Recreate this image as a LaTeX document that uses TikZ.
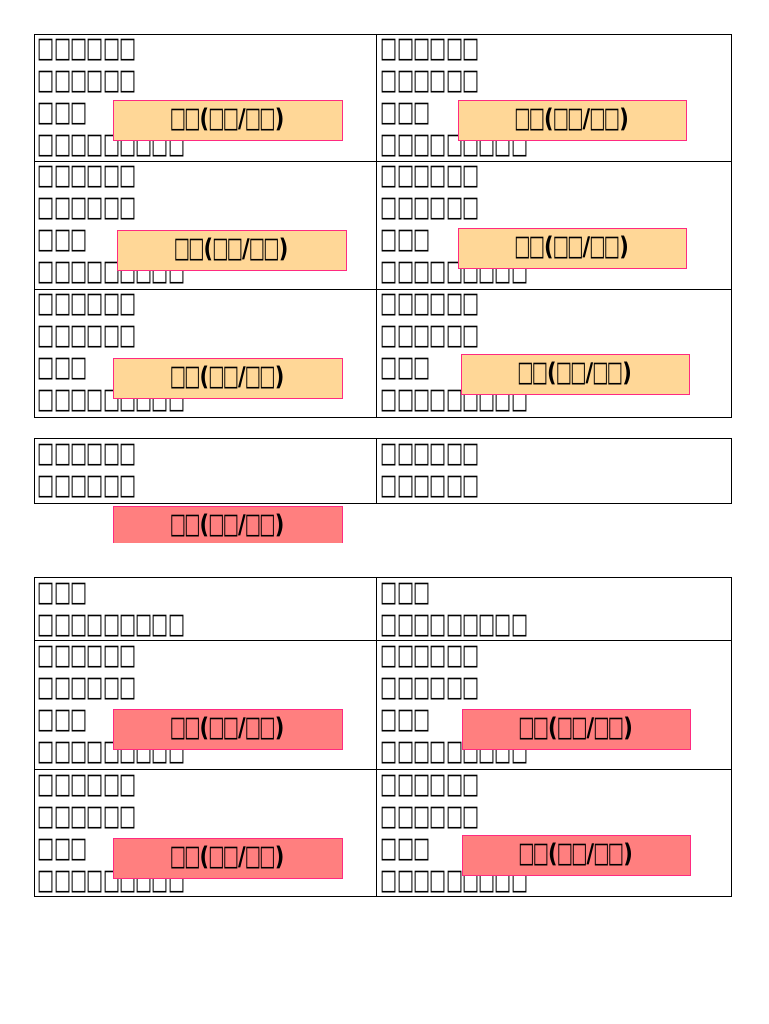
\documentclass[tikz,border=0pt]{standalone}
\usepackage{fontspec}
\usepackage{graphicx}
\setmainfont{DejaVu Sans}
\newcommand\tb{\makebox[16.3pt]{\scalebox{0.95}[1.5]{□}}}
\newcommand\lb{\makebox[14.5pt]{\scalebox{0.9}[1.5]{□}}}
\newcommand\tall[1]{\scalebox{1.1}[1.35]{#1}}
\newcommand\Lab{\lb\lb\tall{(}\lb\lb\tall{/}\lb\lb\tall{)}}
\newcommand\Ls{\tb\tb\tb\tb\tb\tb}
\newcommand\Lt{\tb\tb\tb}
\newcommand\Ln{\tb\tb\tb\tb\tb\tb\tb\tb\tb}
\definecolor{org}{HTML}{FFD797}
\definecolor{rd}{HTML}{FF7F7F}
\definecolor{pk}{HTML}{FF2A80}
\begin{document}
\begin{tikzpicture}[x=1pt,y=-1pt,
  txt/.style={anchor=west,inner sep=0pt,font=\fontsize{19}{19}\selectfont},
  lab/.style={font=\bfseries\fontsize{19}{19}\selectfont,inner sep=0pt},
  grid/.style={draw=black,line width=0.6pt}]
\useasboundingbox (0,0) rectangle (768,1024);
% table 1
\draw[grid] (34,34) rectangle (731,417);
\draw[grid] (376,34) -- (376,417) (34,161) -- (731,161) (34,289) -- (731,289);
\foreach \t [count=\i] in {34,161,289}{
 \foreach \x/\c in {38/a,381/b}{
  \node[txt] (t1\i\c1) at (\x,\t+16) {\Ls};
  \node[txt] (t1\i\c2) at (\x,\t+48) {\Ls};
  \node[txt] (t1\i\c3) at (\x,\t+80) {\Lt};
  \node[txt] (t1\i\c4) at (\x,\t+112) {\Ln};
 }}
% table 2
\draw[grid] (34,438) rectangle (731,503);
\draw[grid] (376,438) -- (376,503);
\foreach \x/\c in {38/a,381/b}{
  \node[txt] (t2\c1) at (\x,455) {\Ls};
  \node[txt] (t2\c2) at (\x,487) {\Ls};
}
% table 3
\draw[grid] (34,577) rectangle (731,896);
\draw[grid] (376,577) -- (376,896) (34,640) -- (731,640) (34,769) -- (731,769);
\foreach \x/\c in {38/a,381/b}{
  \node[txt] (t30\c1) at (\x,594) {\Lt};
  \node[txt] (t30\c2) at (\x,626) {\Ln};
}
\foreach \t [count=\i] in {640,769}{
 \foreach \x/\c in {38/a,381/b}{
  \node[txt] (t3\i\c1) at (\x,\t+17) {\Ls};
  \node[txt] (t3\i\c2) at (\x,\t+49) {\Ls};
  \node[txt] (t3\i\c3) at (\x,\t+81) {\Lt};
  \node[txt] (t3\i\c4) at (\x,\t+113) {\Ln};
 }}
% labels
\foreach \n/\a/\b/\c/\d/\f in {
 l1/113/100/342/140/org, l2/458/100/686/140/org,
 l3/117/230/346/270/org, l4/458/228/686/268/org,
 l5/113/358/342/398/org, l6/461/354/689/394/org,
 l8/113/709/342/749/rd, l9/462/709/690/749/rd,
 l10/113/838/342/878/rd, l11/462/835/690/875/rd}{
 \draw[draw=pk,line width=0.8pt,fill=\f] (\a,\b) rectangle (\c,\d);
 \node[lab] (\n) at ({(\a+\c)/2},{(\b+\d)/2}) {\Lab};
}
\fill[rd] (113,506) rectangle (342,543);
\draw[pk,line width=0.8pt] (113,543) -- (113,506) -- (342,506) -- (342,543);
\node[lab] (l7) at (227.5,526) {\Lab};
\end{tikzpicture}
\end{document}
